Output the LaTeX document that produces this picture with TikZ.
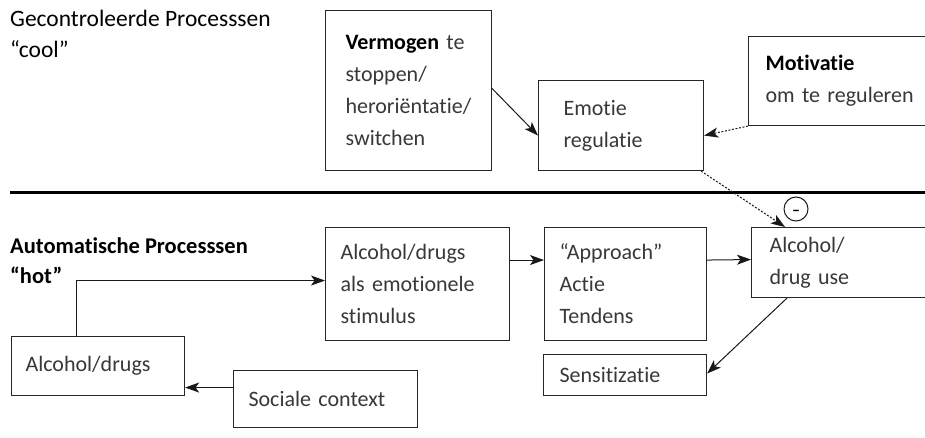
\documentclass[tikz,border=0pt]{standalone}
\usepackage{fontspec}
\setmainfont{Carlito}[Ligatures=NoCommon]
\usetikzlibrary{arrows.meta,calc}
\definecolor{boxtext}{gray}{0.22}
\begin{document}
\begin{tikzpicture}[x=1pt,y=-1pt,
  box/.style={draw=black!85, line width=1.1pt, anchor=north west, align=left,
    inner ysep=0pt, font=\fontsize{22}{32}\selectfont, text=boxtext},
  title/.style={anchor=base west, inner sep=0pt, font=\fontsize{23.5}{30}\selectfont, text=black},
  btitle/.style={title, font=\fontsize{22.5}{30}\selectfont\bfseries},
  arr/.style={-{Stealth[length=14pt,width=10pt,inset=3.5pt]}, line width=1pt, draw=black!90},
  darr/.style={arr, dash pattern=on 2pt off 1.6pt}]
\useasboundingbox (0,0) rectangle (925,438);
\fill[white] (0,0) rectangle (925,438);

% titles
\node[title] (t1) at (10,27) {Gecontroleerde Processsen};
\node[title] (t2) at (10,58) {“cool”};
\node[btitle] (t3) at (10,253) {Automatische Processsen};
\node[btitle] (t4) at (10,283) {“hot”};

% divider
\draw[line width=3pt] (10,193) -- (930,193);

% top boxes
\node[box, minimum width=166pt, minimum height=160pt, text width=126pt, inner xsep=20pt] (verm) at (325,10)
  {{\color{black}\bfseries Vermogen} te\\stoppen/\\heroriëntatie/\\switchen};
\node[box, minimum width=165pt, minimum height=90pt, text width=115pt, inner xsep=25pt] (emo) at (538,80)
  {Emotie\\regulatie};
\node[box, minimum width=187pt, minimum height=89pt, text width=153pt, inner xsep=17pt] (mot) at (748,36)
  {{\color{black}\bfseries Motivatie}\\om te reguleren};

% bottom boxes
\node[box, minimum width=184pt, minimum height=113pt, text width=154pt, inner xsep=15pt] (stim) at (325,227)
  {Alcohol/drugs\\als emotionele\\stimulus};
\node[box, minimum width=162pt, minimum height=113pt, text width=132pt, inner xsep=15pt] (appr) at (544,227)
  {“Approach”\\Actie\\Tendens};
\node[box, minimum width=184pt, minimum height=70pt, text width=148pt, inner xsep=18pt] (use) at (751,227)
  {Alcohol/\\drug use};
\node[box, minimum width=163pt, minimum height=41pt, text width=131pt, inner xsep=16pt] (sens) at (543,354)
  {Sensitizatie};
\node[box, minimum width=173pt, minimum height=59pt, text width=145pt, inner xsep=14pt] (alc) at (11,336)
  {Alcohol/drugs};
\node[box, minimum width=184pt, minimum height=57pt, text width=154pt, inner xsep=15pt] (soc) at (233,370)
  {Sociale context};

% minus circle
\node[circle, draw=black!90, line width=1pt, minimum size=24pt, inner sep=0pt,
  text height=0pt, text depth=0pt,
  font=\fontsize{16}{16}\selectfont\bfseries] (neg) at (796,209) {\raisebox{-6.8pt}{–}};

% connectors
\draw[arr] ([yshift=2pt]verm.east) -- ([yshift=-10pt]emo.west);
\draw[darr] (mot.south west) -- ([yshift=-10pt]emo.east);
\draw[darr] ([xshift=-3pt]emo.south east) -- ([xshift=34pt]use.north west);
\draw[arr] ([xshift=-22pt]alc.north) |- ([yshift=3.5pt]stim.west);
\draw[arr] ([yshift=24pt]stim.east) -- ([yshift=24pt]appr.west);
\draw[arr] ([yshift=24pt]appr.east) -- ([yshift=3pt]use.west);
\draw[arr] ([xshift=36pt]use.south west) -- ([yshift=1.5pt]sens.east);
\draw[arr] ([yshift=11.5pt]soc.west) -- ([yshift=-21.5pt]alc.east);
\end{tikzpicture}
\end{document}
